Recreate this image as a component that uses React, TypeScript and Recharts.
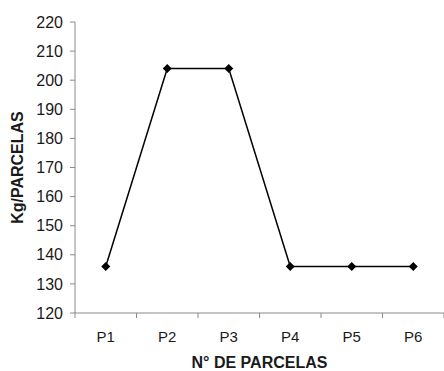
import React from 'react';
import { LineChart, Line, XAxis, YAxis } from 'recharts';

const parcelas = ['P1', 'P2', 'P3', 'P4', 'P5', 'P6'];
const kgPorParcela = [136, 204, 204, 136, 136, 136];
const yTicks = [120, 130, 140, 150, 160, 170, 180, 190, 200, 210, 220];
const bandEdges = [0, 1, 2, 3, 4, 5, 6];

const data = parcelas.map((name, i) => ({ name, value: kgPorParcela[i] }));

const FONT = 'Arial, "Liberation Sans", Helvetica, sans-serif';
const AXIS = '#8a8a8a';
const TEXT = '#1a1a1a';

const Diamond = (props: any) => {
  const { cx, cy } = props;
  if (cx == null || cy == null) return null;
  const r = 4.5;
  return (
    <path
      key={`d-${cx}`}
      d={`M${cx},${cy - r}L${cx + r},${cy}L${cx},${cy + r}L${cx - r},${cy}Z`}
      fill="#000"
    />
  );
};

export default function App() {
  return (
    <div style={{ position: 'absolute', left: 0, top: 0, background: '#fff' }}>
      <LineChart
        width={444}
        height={371}
        data={data}
        margin={{ top: 22, right: 0, bottom: 0, left: 0 }}
      >
        <XAxis
          xAxisId="a-edges"
          type="number"
          dataKey="edge"
          domain={[0, 6]}
          ticks={bandEdges}
          tickFormatter={() => ''}
          height={6}
          tickSize={5}
          stroke={AXIS}
          allowDataOverflow
        />
        <XAxis
          xAxisId="b-cat"
          dataKey="name"
          scale="band"
          axisLine={false}
          tickLine={false}
          tickSize={0}
          tickMargin={12}
          height={52}
          tick={{ fill: TEXT, fontSize: 15, fontFamily: FONT }}
          label={{
            value: 'N° DE PARCELAS',
            position: 'insideBottom',
            offset: 3,
            fill: TEXT,
            fontSize: 16,
            fontWeight: 'bold',
            fontFamily: FONT,
          }}
        />
        <YAxis
          domain={[120, 220]}
          ticks={yTicks}
          width={75}
          stroke={AXIS}
          tickSize={5}
          tickMargin={7}
          interval={0}
          tick={{ fill: TEXT, fontSize: 16, fontFamily: FONT }}
          label={{
            value: 'Kg/PARCELAS',
            angle: -90,
            position: 'insideLeft',
            offset: 17,
            style: { textAnchor: 'middle' },
            fill: TEXT,
            fontSize: 16,
            fontWeight: 'bold',
            fontFamily: FONT,
          }}
        />
        <Line
          xAxisId="b-cat"
          type="linear"
          dataKey="value"
          stroke="#000"
          strokeWidth={1.5}
          dot={<Diamond />}
          activeDot={false}
          isAnimationActive={false}
        />
      </LineChart>
    </div>
  );
}
